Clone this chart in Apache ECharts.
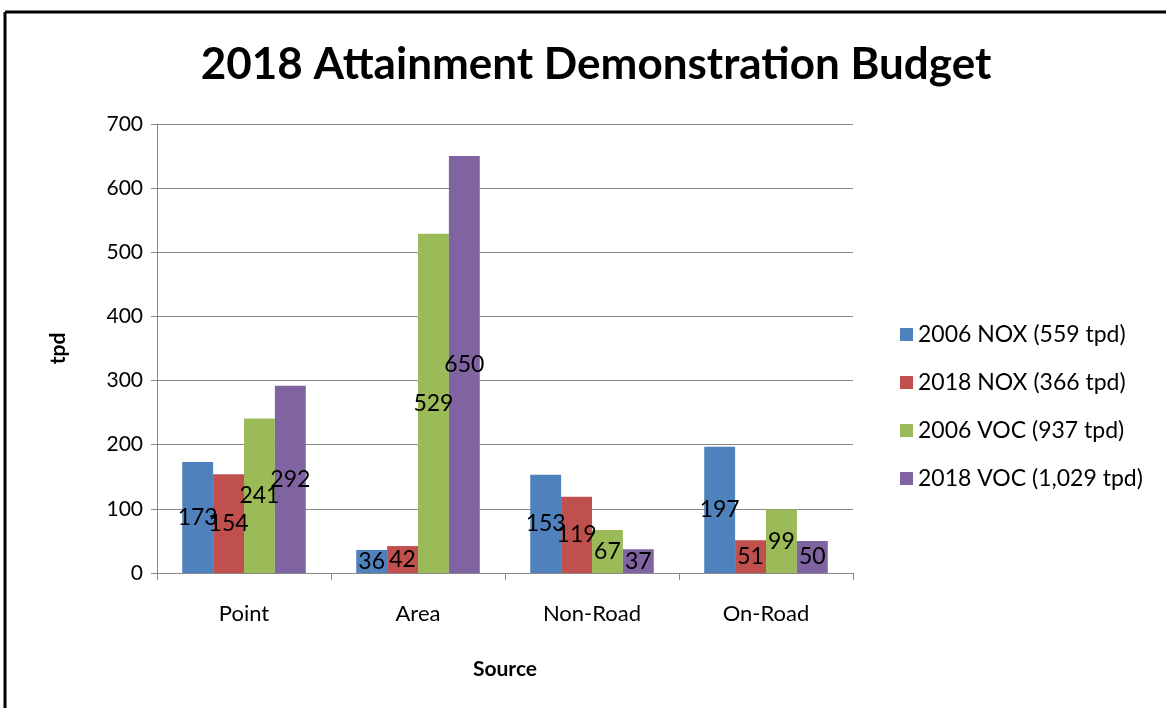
<!DOCTYPE html>
<html><head><meta charset="utf-8">
<script src="https://cdn.jsdelivr.net/npm/echarts@6/dist/echarts.min.js"></script>
<style>html,body{margin:0;padding:0;background:#fff}#c{width:1166px;height:708px}</style>
</head><body><div id="c"></div>
<script>
const categories = ['Point', 'Area', 'Non-Road', 'On-Road'];
const seriesNames = ['2006 NOX (559 tpd)', '2018 NOX (366 tpd)', '2006 VOC (937 tpd)', '2018 VOC (1,029 tpd)'];
const nox2006 = [173, 36, 153, 197];
const nox2018 = [154, 42, 119, 51];
const voc2006 = [241, 529, 67, 99];
const voc2018 = [292, 650, 37, 50];
const colors = ['#4F81BD', '#C0504D', '#9BBB59', '#8064A2'];
const FONT = 'Lato';

const chart = echarts.init(document.getElementById('c'), null, {renderer: 'canvas'});
const allData = [nox2006, nox2018, voc2006, voc2018];
chart.setOption({
  animation: false,
  textStyle: {fontFamily: FONT},
  title: {
    text: '2018 Attainment Demonstration Budget', left: 591, top: 38, textAlign: 'center',
    textStyle: {fontFamily: FONT, fontWeight: 'bold', fontSize: 44, color: '#000'}
  },
  grid: {left: 157, right: 313, top: 124, bottom: 135},
  legend: {
    orient: 'vertical', left: 895, top: 318, itemWidth: 13, itemHeight: 13, itemGap: 25,
    icon: 'rect', textStyle: {fontFamily: FONT, fontSize: 23, color: '#000'},
    data: seriesNames
  },
  xAxis: {
    type: 'category', data: categories,
    name: 'Source', nameLocation: 'middle', nameGap: 86,
    nameTextStyle: {fontFamily: FONT, fontWeight: 'bold', fontSize: 21, color: '#000'},
    axisLine: {lineStyle: {color: '#888', width: 1}},
    axisTick: {show: true, length: 7, lineStyle: {color: '#888'}},
    axisLabel: {fontSize: 22, color: '#000', margin: 30, fontFamily: FONT}
  },
  yAxis: {
    type: 'value', min: 0, max: 700, interval: 100,
    name: 'tpd', nameLocation: 'middle', nameGap: 88, nameRotate: 90,
    nameTextStyle: {fontFamily: FONT, fontWeight: 'bold', fontSize: 21, color: '#000'},
    axisLine: {show: true, lineStyle: {color: '#888', width: 1}},
    axisTick: {show: true, length: 6, lineStyle: {color: '#888'}},
    axisLabel: {fontSize: 21, color: '#000', margin: 14, fontFamily: FONT},
    splitLine: {lineStyle: {color: '#888', width: 1}}
  },
  series: seriesNames.map((n, i) => ({
    name: n, type: 'bar', data: allData[i], barGap: '0%', barCategoryGap: '29%',
    itemStyle: {color: colors[i]},
    label: {show: true, position: 'inside', color: '#000', fontSize: 23, fontFamily: FONT}
  })),
  graphic: [
    {type: 'line', shape: {x1: 5, y1: 12, x2: 1166, y2: 12}, style: {stroke: '#000', lineWidth: 3}},
    {type: 'line', shape: {x1: 5, y1: 12, x2: 5, y2: 708}, style: {stroke: '#000', lineWidth: 3}}
  ]
});
</script></body></html>
